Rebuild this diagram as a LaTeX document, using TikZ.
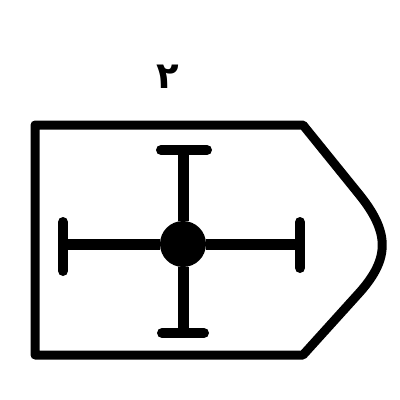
\documentclass[tikz,border=0pt]{standalone}
\usepackage{fontspec}
\usetikzlibrary{calc}
\newfontfamily\arabicfont[Script=Arabic]{DejaVu Sans}
\TeXXeTstate=1
\tikzset{outline/.style={line width=9pt,line join=round}}
\tikzset{arm/.style={line width=11pt}}
\tikzset{crossbar/.style={line width=10pt,line cap=round}}

\begin{document}
\begin{tikzpicture}[x=1pt,y=-1pt]
	\useasboundingbox (0,0) rectangle (400,400);
	% number above the shield
	\node[font=\arabicfont\fontsize{37}{37}\selectfont\bfseries,inner sep=0pt] (num) at (168,77) {\beginR ٢\endR};

	% shield outline
	\coordinate (tl) at (35,125);
	\coordinate (tr) at (303,125);
	\coordinate (ur) at (358,193);
	\coordinate (lr) at (360,292);
	\coordinate (br) at (303,355);
	\coordinate (bl) at (35,355);
	\draw[outline] (tl) -- (tr) -- (ur) .. controls (390,232) and (390,258) .. (lr) -- (br) -- (bl) -- cycle;

	% cross with hub
	\node[circle,fill,minimum size=46pt,inner sep=0pt] (hub) at (183,244) {};
	\coordinate (top) at (183,150);
	\coordinate (bottom) at (183,333);
	\coordinate (left) at (63,244);
	\coordinate (right) at (300,244);
	\draw[arm] (hub) -- (top);
	\draw[arm] (hub) -- (bottom);
	\draw[arm] (hub) -- (left);
	\draw[arm] (hub) -- (right);
	\draw[crossbar] ($(top)+(-22,0)$) -- ($(top)+(24,0)$);
	\draw[crossbar] ($(bottom)+(-21,0)$) -- ($(bottom)+(21,0)$);
	\draw[crossbar] ($(left)+(0,-22)$) -- ($(left)+(0,27)$);
	\draw[crossbar] ($(right)+(0,-22)$) -- ($(right)+(0,24)$);
\end{tikzpicture}
\end{document}
